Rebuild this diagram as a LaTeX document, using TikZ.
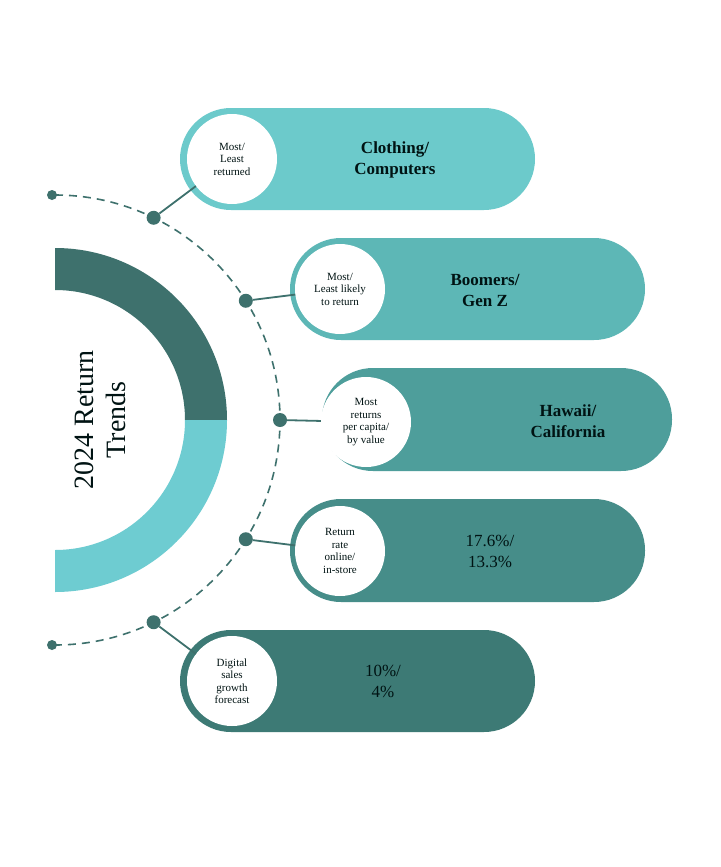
\documentclass[tikz,border=0pt]{standalone}
\usepackage{fontspec}
\setmainfont{Liberation Serif}
\usetikzlibrary{calc}
\begin{document}
\begin{tikzpicture}[x=1pt,y=-1pt,
  txt/.style={text=black!85!teal},
  lab/.style={circle,fill=white,minimum size=90pt,inner sep=0pt,align=center,font=\fontsize{11}{12.5}\selectfont,txt},
  main/.style={align=center,font=\fontsize{17}{21}\selectfont\bfseries,txt},
  dot/.style={circle,fill=cdark,inner sep=0pt,minimum size=14pt},
  edot/.style={circle,fill=cdark,inner sep=0pt,minimum size=10pt},
  conn/.style={cdark,line width=1.8pt}]
\definecolor{c1}{HTML}{6CCACB}
\definecolor{c2}{HTML}{5DB7B6}
\definecolor{c3}{HTML}{4E9E9B}
\definecolor{c4}{HTML}{468D89}
\definecolor{c5}{HTML}{3D7A75}
\definecolor{cdark}{HTML}{3E716D}
\definecolor{clight}{HTML}{6ECCD1}
\useasboundingbox (0,0) rectangle (720,867);
\fill[white] (0,0) rectangle (720,867);
% ring
\fill[cdark] (55,248) arc[start angle=-90,end angle=0,radius=172] -- (185,420) arc[start angle=0,end angle=-90,radius=130] -- cycle;
\fill[clight] (227,420) arc[start angle=0,end angle=90,radius=172] -- (55,550) arc[start angle=90,end angle=0,radius=130] -- cycle;
\node[rotate=90,align=center,font=\fontsize{28}{32}\selectfont,txt] (title) at (100,420) {2024 Return\\Trends};
% dashed arc
\draw[cdark,line width=1.6pt,dash pattern=on 8pt off 6pt] (55,195) arc[start angle=-90,end angle=90,radius=225];
\node[edot] (e1) at (52,195) {};
\node[edot] (e2) at (52,645) {};
\foreach \a [count=\i] in {-64,-32,0,32,64} \node[dot] (d\i) at ($(55,420)+(\a:225)$) {};
% pills
\fill[c1] [rounded corners=51pt] (180,108) rectangle (535,210);
\fill[c2] [rounded corners=51pt] (290,238) rectangle (645,340);
\fill[c3] [rounded corners=51pt] (322,368) rectangle (672,471);
\fill[c4] [rounded corners=51pt] (290,499) rectangle (645,602);
\fill[c5] [rounded corners=51pt] (180,630) rectangle (535,732);
\node[lab] (l1) at (232,159) {Most/\\Least\\returned};
\node[lab] (l2) at (340,289) {Most/\\Least likely\\to return};
\node[lab] (l3) at (366,422) {Most\\returns\\per capita/\\by value};
\node[lab] (l4) at (340,551) {Return\\rate\\online/\\in-store};
\node[lab] (l5) at (232,681) {Digital\\sales\\growth\\forecast};
\node[main] (m1) at (395,160) {Clothing/\\Computers};
\node[main] (m2) at (485,290) {Boomers/\\Gen Z};
\node[main] (m3) at (568,421) {Hawaii/\\California};
\node[main,font=\fontsize{17}{21}\selectfont] (m4) at (490,551) {17.6\%/\\13.3\%};
\node[main,font=\fontsize{17}{21}\selectfont] (m5) at (383,681) {10\%/\\4\%};
\foreach \i in {1,...,5} \draw[conn] (d\i) -- (l\i);
\end{tikzpicture}
\end{document}
